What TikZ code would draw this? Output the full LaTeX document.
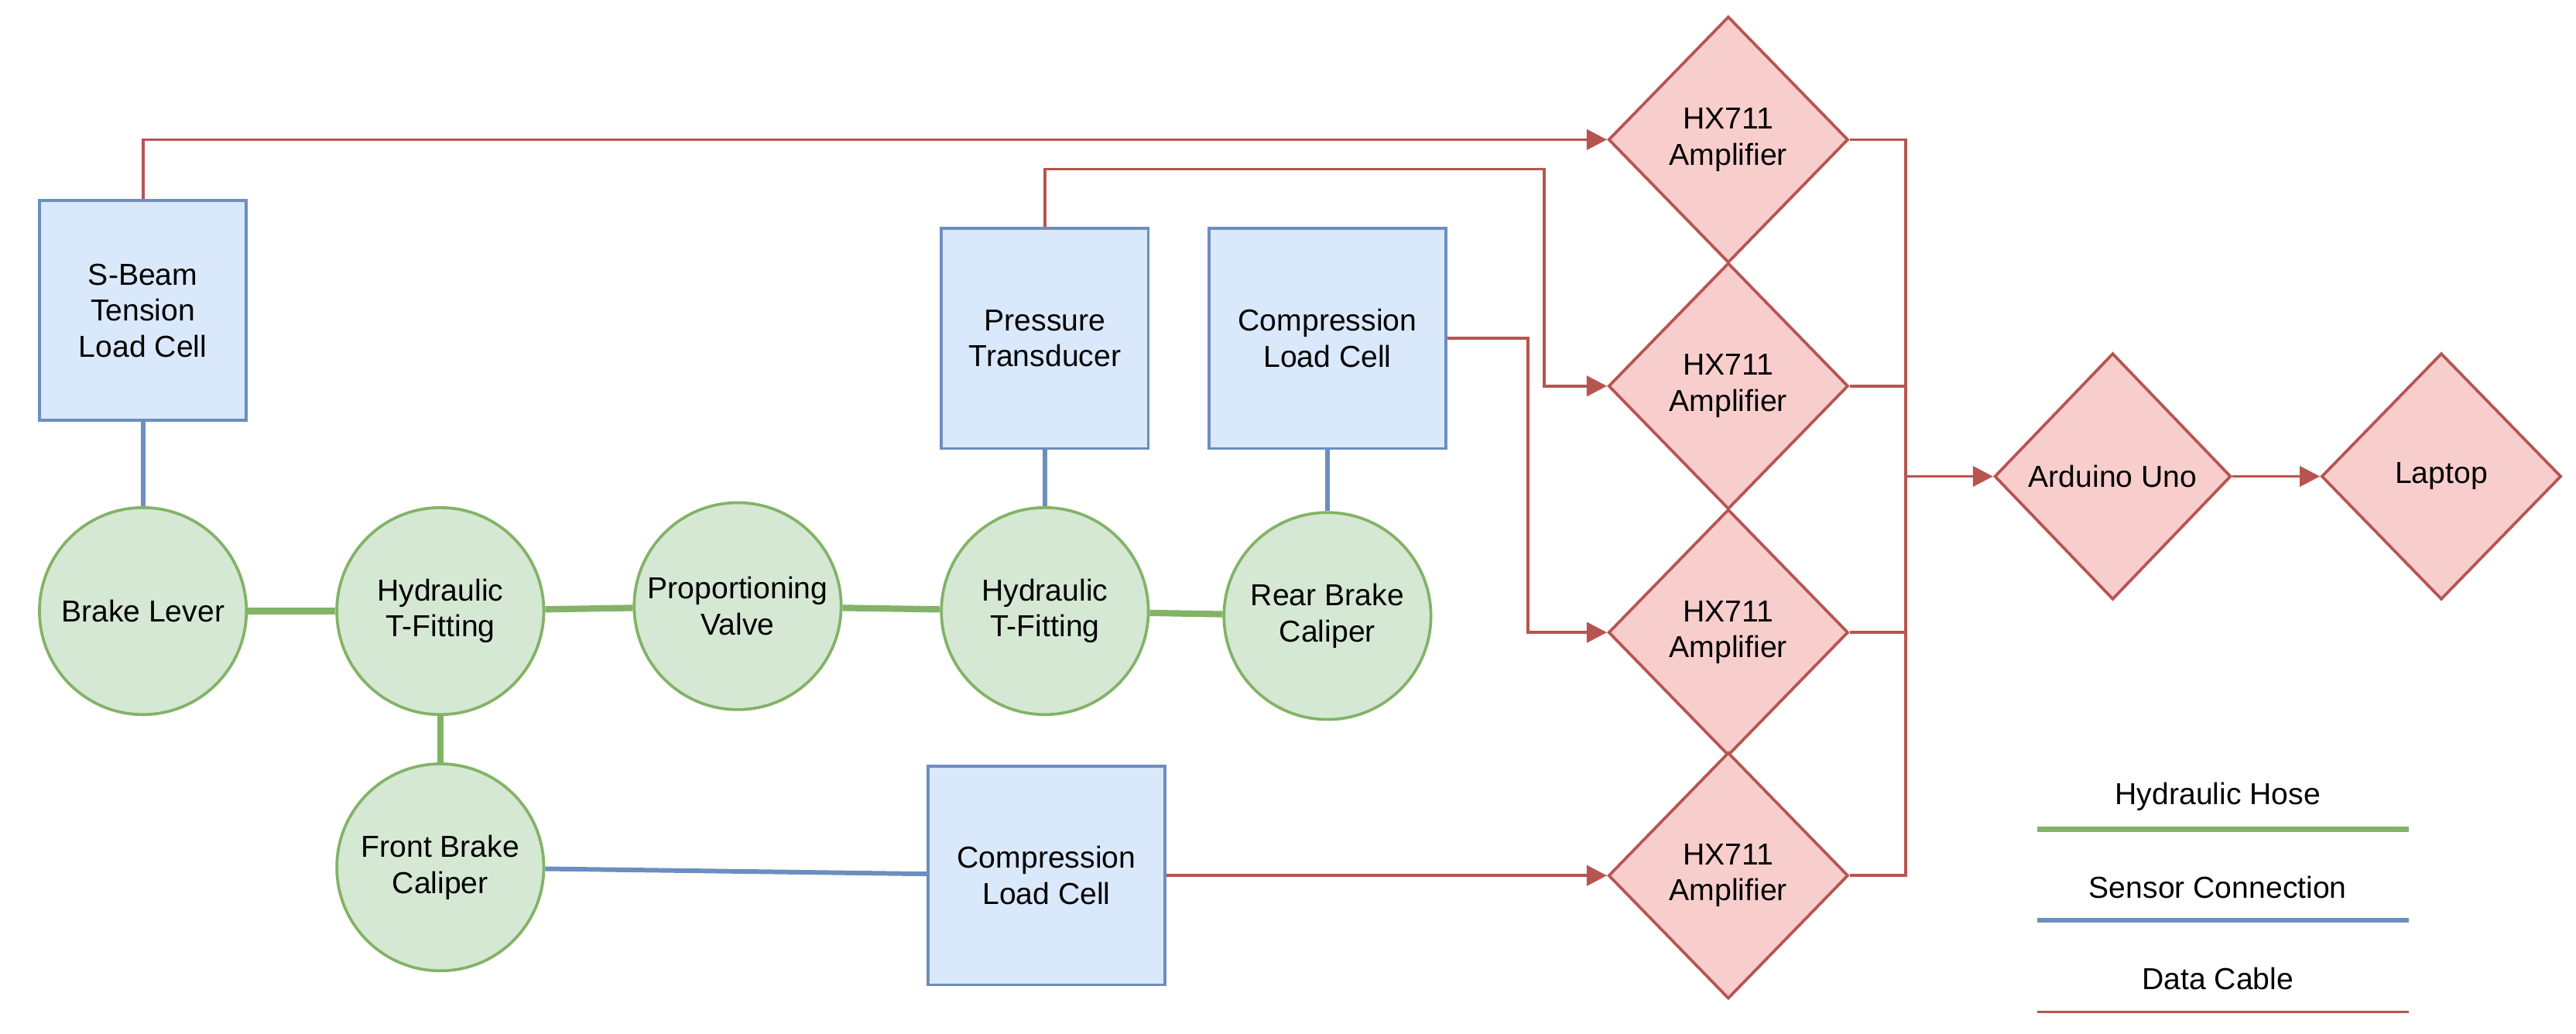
\documentclass[tikz,border=0pt]{standalone}
\usepackage{fontspec}
\setmainfont{Liberation Sans}
\usetikzlibrary{positioning}
\usetikzlibrary{shapes.geometric}
\usetikzlibrary{arrows.meta}
\definecolor{hosefill}{HTML}{D5E8D4}
\definecolor{hosedraw}{HTML}{82B366}
\definecolor{sensfill}{HTML}{DAE8FC}
\definecolor{sensdraw}{HTML}{6C8EBF}
\definecolor{datafill}{HTML}{F8CECC}
\definecolor{datadraw}{HTML}{B85450}
\tikzset{
  part/.style={draw=hosedraw,fill=hosefill,line width=1pt,shape=circle,minimum size=2.52cm,inner sep=0pt,align=center,font=\fontsize{10.5}{12.5}\selectfont},
  sensor/.style={draw=sensdraw,fill=sensfill,line width=1pt,shape=rectangle,minimum width=2.52cm,minimum height=2.68cm,align=center,font=\fontsize{10.5}{12.5}\selectfont},
  amp/.style={draw=datadraw,fill=datafill,line width=1pt,shape=diamond,minimum width=2.92cm,minimum height=3cm,inner sep=0pt,align=center,font=\fontsize{10.5}{12.5}\selectfont},
  hose/.style={draw=hosedraw,line width=2.2pt},
  sline/.style={draw=sensdraw,line width=1.6pt},
  data/.style={draw=datadraw,line width=1pt},
  dataarr/.style={data,-{Triangle[length=7pt,width=7pt]}},
  legend/.style={font=\fontsize{10.5}{12.5}\selectfont}
}
\begin{document}
\begin{tikzpicture}[x=0.02cm,y=-0.02cm]
   \useasboundingbox (0,0) rectangle (1568,629);
   % hydraulic parts
   \node[part] (lever) at (87,372) {Brake Lever};
   \node[part] (tfit1) at (268,372) {Hydraulic\\T-Fitting};
   \node[part] (valve) at (449,369) {Proportioning\\Valve};
   \node[part] (tfit2) at (636,372) {Hydraulic\\T-Fitting};
   \node[part] (rear) at (808,375) {Rear Brake\\Caliper};
   \node[part] (front) at (268,528) {Front Brake\\Caliper};
   % sensors
   \node[sensor] (sbeam) at (87,189) {S-Beam\\Tension\\Load Cell};
   \node[sensor] (press) at (636,206) {Pressure\\Transducer};
   \node[sensor,minimum width=2.88cm] (comptop) at (808,206) {Compression\\Load Cell};
   \node[sensor,minimum width=2.88cm,minimum height=2.66cm] (compbot) at (637,533) {Compression\\Load Cell};
   % amplifiers
   \foreach \y [count=\i] in {85,235,385,533}
      \node[amp] (hx\i) at (1052,\y) {HX711\\Amplifier};
   \node[amp,minimum width=2.88cm] (uno) at (1286,290) {Arduino Uno};
   \node[amp] (laptop) at (1486,290) {Laptop};
   % hoses
   \draw[hose] (lever) -- (tfit1);
   \draw[hose] (tfit1) -- (valve);
   \draw[hose] (valve) -- (tfit2);
   \draw[hose] (tfit2) -- (rear);
   \draw[hose] (tfit1) -- (front);
   % sensor connections
   \draw[sline] (sbeam) -- (lever);
   \draw[sline] (press) -- (tfit2);
   \draw[sline] (comptop) -- (rear);
   \draw[sline] (front) -- (compbot);
   % data cables
   \draw[dataarr] (sbeam.north) |- (hx1.west);
   \draw[dataarr] (press.north) |- (940,103) |- (hx2.west);
   \draw[dataarr] (comptop.east) -| (930,300) |- (hx3.west);
   \draw[dataarr] (compbot.east) -- (hx4.west);
   \coordinate (bus) at (1160,290);
   \foreach \i in {1,...,4}
      \draw[data] (hx\i.east) -| (bus);
   \draw[dataarr] (bus) -- (uno.west);
   \draw[dataarr] (uno.east) -- (laptop.west);
   % legend
   \coordinate (l1a) at (1240,505); \coordinate (l1b) at (1466,505);
   \coordinate (l2a) at (1240,560); \coordinate (l2b) at (1466,560);
   \coordinate (l3a) at (1240,616); \coordinate (l3b) at (1466,616);
   \draw[hose,line width=1.8pt] (l1a) -- (l1b);
   \draw[sline] (l2a) -- (l2b);
   \draw[data] (l3a) -- (l3b);
   \node[legend] (hosetxt) at (1350,485) {Hydraulic Hose};
   \node[legend] (senstxt) at (1350,540) {Sensor Connection};
   \node[legend] (datatxt) at (1350,596) {Data Cable};
\end{tikzpicture}
\end{document}
